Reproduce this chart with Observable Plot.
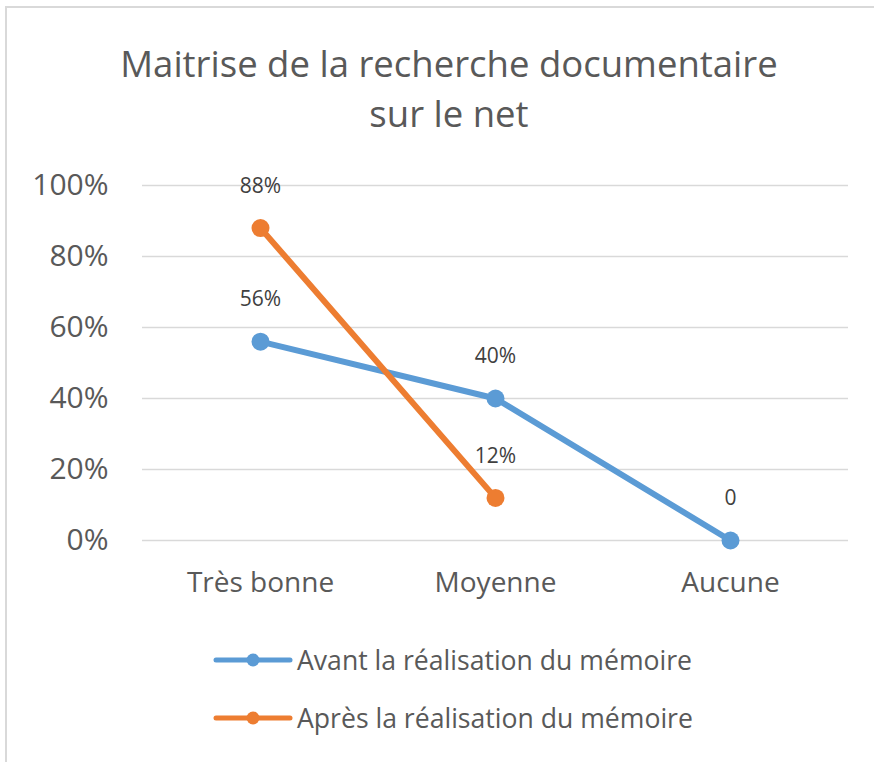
<!DOCTYPE html>
<html>
<head>
<meta charset="utf-8">
<script src="https://cdn.jsdelivr.net/npm/d3@7"></script>
<script src="https://cdn.jsdelivr.net/npm/@observablehq/plot@0.6"></script>
<style>
  html, body { margin: 0; padding: 0; background: #fff; }
  #wrap { position: relative; width: 874px; height: 762px; overflow: hidden; font-family: "Open Sans", Lato, sans-serif; color: #595959; }
  #frame { position: absolute; left: 5px; top: 6px; width: 900px; height: 800px; border-top: 2px solid #d9d9d9; border-left: 2px solid #d9d9d9; }
  #title { position: absolute; left: 0; top: 38px; width: 898px; text-align: center; font-size: 36.5px; line-height: 50px; color: #595959; }
  #chart { position: absolute; left: 0; top: 160px; }
  #legend { position: absolute; left: 213px; top: 631px; font-size: 26.6px; }
  .item { display: flex; align-items: center; height: 58px; white-space: nowrap; }
  .item svg { margin-right: 4px; flex: none; }
</style>
</head>
<body>
<div id="wrap">
  <div id="frame"></div>
  <div id="title">Maitrise de la recherche documentaire<br>sur le net</div>
  <div id="chart"></div>
  <div id="legend"></div>
</div>
<script>
const categories = ["Très bonne", "Moyenne", "Aucune"];
const seriesNames = ["Avant la réalisation du mémoire", "Après la réalisation du mémoire"];
const avantValues = [0.56, 0.40, 0];
const apresValues = [0.88, 0.12];
const avantLabels = ["56%", "40%", "0"];
const apresLabels = ["88%", "12%"];
const yTicks = [0, 0.2, 0.4, 0.6, 0.8, 1.0];
const colors = ["#5b9bd5", "#ed7d31"];

const data = [];
avantValues.forEach((v, i) => data.push({series: seriesNames[0], cat: categories[i], value: v, label: avantLabels[i]}));
apresValues.forEach((v, i) => data.push({series: seriesNames[1], cat: categories[i], value: v, label: apresLabels[i]}));

const chart = Plot.plot({
  width: 874,
  height: 450,
  marginTop: 25,
  marginBottom: 70,
  marginLeft: 142,
  marginRight: 26,
  style: {fontFamily: "'Open Sans', Lato, sans-serif", color: "#595959", background: "transparent"},
  x: {type: "point", domain: categories, padding: 0.5, label: null},
  y: {domain: [0, 1], label: null},
  color: {domain: seriesNames, range: colors},
  marks: [
    Plot.gridY(yTicks, {stroke: "#d9d9d9", strokeOpacity: 1, strokeWidth: 1.5}),
    Plot.axisY(yTicks, {tickSize: 0, tickPadding: 34, tickFormat: d => Math.round(d * 100) + "%", fontSize: 30, fill: "#595959", label: null}),
    Plot.axisX(categories, {tickSize: 0, tickPadding: 32, fontSize: 28, fill: "#595959", label: null}),
    Plot.line(data, {x: "cat", y: "value", z: "series", stroke: "series", strokeWidth: 6, curve: "linear"}),
    Plot.dot(data, {x: "cat", y: "value", fill: "series", r: 9}),
    Plot.text(data, {x: "cat", y: "value", text: "label", dy: -42, fontSize: 21, fill: "#404040"})
  ]
});
document.getElementById("chart").appendChild(chart);

const legend = document.getElementById("legend");
seriesNames.forEach((name, i) => {
  const item = document.createElement("div");
  item.className = "item";
  item.innerHTML = `<svg width="80" height="16"><line x1="3" y1="8" x2="77" y2="8" stroke="${colors[i]}" stroke-width="5" stroke-linecap="round"/><circle cx="40" cy="8" r="6.5" fill="${colors[i]}"/></svg><span>${name}</span>`;
  legend.appendChild(item);
});
</script>
</body>
</html>
